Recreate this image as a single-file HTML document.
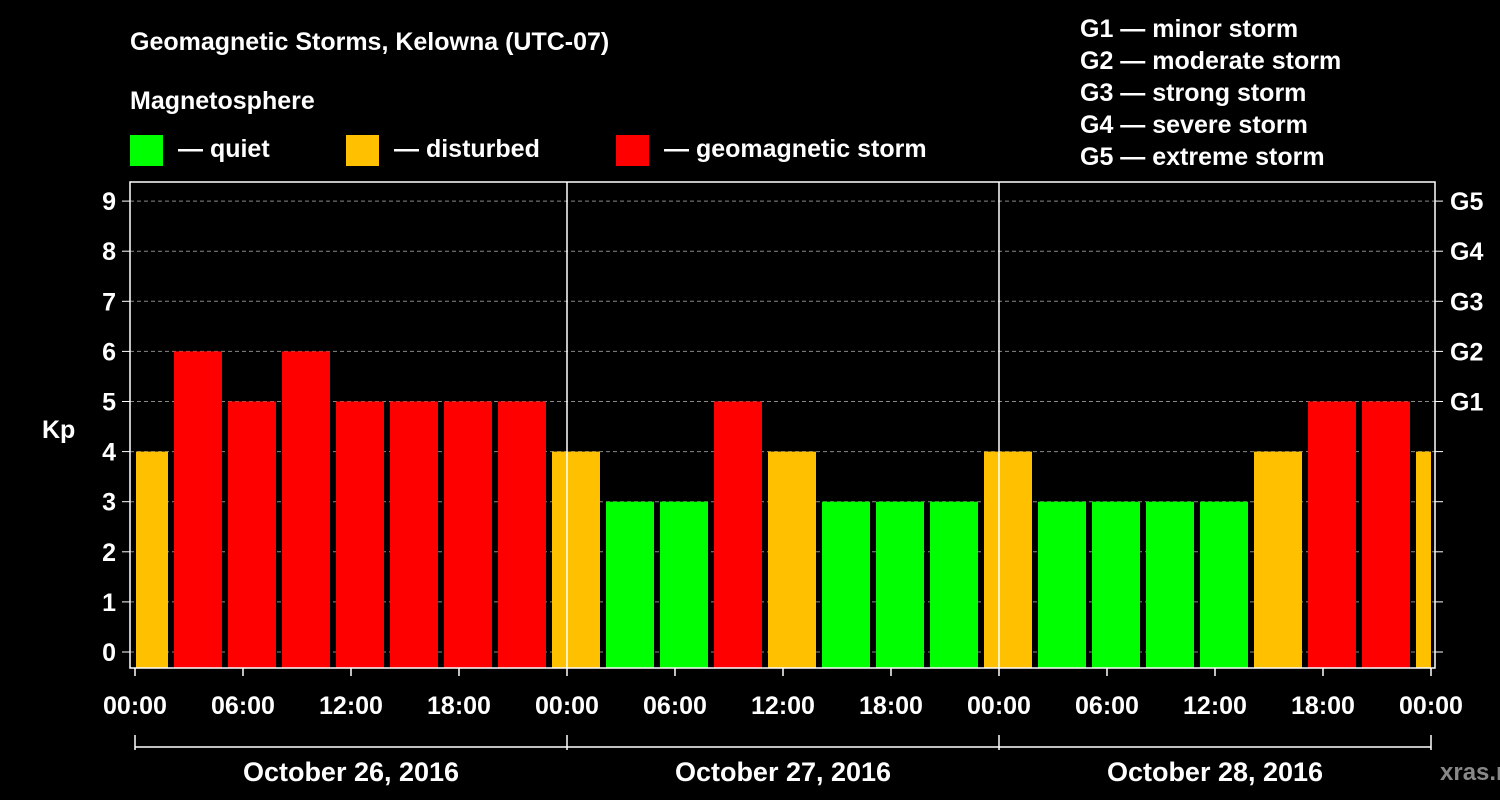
<!DOCTYPE html>
<html><head><meta charset="utf-8"><style>
body{margin:0;background:#000;width:1500px;height:800px;overflow:hidden}
svg{display:block}
text{font-family:"Liberation Sans",sans-serif;font-weight:bold;fill:#fff}
</style></head><body>
<svg id="chart" width="1500" height="800">
<text x="130" y="50" font-size="25">Geomagnetic Storms, Kelowna (UTC-07)</text>
<text x="130" y="109" font-size="25">Magnetosphere</text>
<g><rect x="130" y="135" width="33" height="31" fill="#00ff00"/><text x="178" y="157" font-size="25">— quiet</text></g>
<g><rect x="346" y="135" width="33" height="31" fill="#ffc000"/><text x="394" y="157" font-size="25">— disturbed</text></g>
<g><rect x="616" y="135" width="33" height="31" fill="#ff0000"/><text x="664" y="157" font-size="25">— geomagnetic storm</text></g>
<g font-size="25">
<text x="1080" y="37">G1 — minor storm</text>
<text x="1080" y="69">G2 — moderate storm</text>
<text x="1080" y="101">G3 — strong storm</text>
<text x="1080" y="133">G4 — severe storm</text>
<text x="1080" y="165">G5 — extreme storm</text>
</g>
<g id="grid"></g><g id="bars"></g><g id="axes"></g>
<text x="42" y="438" font-size="25">Kp</text>
<text x="1440" y="780" font-size="24" style="fill:#888">xras.ru</text>
</svg>
<script>
const kpValues=[4,6,5,6,5,5,5,5,4,3,3,5,4,3,3,3,4,3,3,3,3,4,5,5,4];
const yTicks=[0,1,2,3,4,5,6,7,8,9];
const gLabels=["G1","G2","G3","G4","G5"];
const xTickLabels=["00:00","06:00","12:00","18:00","00:00","06:00","12:00","18:00","00:00","06:00","12:00","18:00","00:00"];
const dayLabels=["October 26, 2016","October 27, 2016","October 28, 2016"];
const NS="http://www.w3.org/2000/svg";
const X0=135,PXH=18,Y0=652,PXK=50.1,L=130,R=1435,T=182,B=668;
const xs=h=>X0+h*PXH, ys=k=>Y0-k*PXK;
function mk(p,t,a){const e=document.createElementNS(NS,t);for(const k in a)e.setAttribute(k,a[k]);p.appendChild(e);return e;}
const grid=document.getElementById('grid'),bars=document.getElementById('bars'),axes=document.getElementById('axes');
yTicks.forEach(k=>{
 const g=mk(grid,'line',{x1:L,x2:R,y1:ys(k),y2:ys(k),stroke:'#888','stroke-dasharray':'4,3','stroke-width':1});
 
 
 mk(axes,'line',{x1:L-8,x2:L,y1:ys(k),y2:ys(k),stroke:'#fff','stroke-width':1});
 mk(axes,'line',{x1:R,x2:R+8,y1:ys(k),y2:ys(k),stroke:'#fff','stroke-width':1});
 const t=mk(axes,'text',{x:L-14,y:ys(k)+9,'font-size':25,'text-anchor':'end'});t.textContent=k;
 
 
});
gLabels.forEach((g,i)=>{const t=mk(axes,'text',{x:1450,y:ys(5+i)+9,'font-size':25});t.textContent=g;
 
 });
kpValues.forEach((v,i)=>{
 let x1=xs(-1+3*i)+3,x2=xs(2+3*i)-3;x1=Math.max(x1,X0+1);x2=Math.min(x2,xs(72));
 const c=v>=5?'#ff0000':v>=4?'#ffc000':'#00ff00';
 const r=mk(bars,'rect',{x:x1,y:ys(v),width:x2-x1,height:B-ys(v),fill:c});
 
 
});
mk(axes,'rect',{x:L,y:T,width:R-L,height:B-T,fill:'none',stroke:'#fff','stroke-width':1.5});
[24,48].forEach(h=>mk(axes,'line',{x1:xs(h),x2:xs(h),y1:T,y2:B,stroke:'#fff','stroke-width':1.5}));
xTickLabels.forEach((s,i)=>{const x=xs(i*6);
 mk(axes,'line',{x1:x,x2:x,y1:B,y2:B+8,stroke:'#fff','stroke-width':1.5});
 const t=mk(axes,'text',{x:x,y:714,'font-size':25,'text-anchor':'middle'});t.textContent=s;
 
 });
mk(axes,'line',{x1:xs(0),x2:xs(72),y1:747,y2:747,stroke:'#fff','stroke-width':1.5});
[0,24,48,72].forEach(h=>mk(axes,'line',{x1:xs(h),x2:xs(h),y1:735,y2:750,stroke:'#fff','stroke-width':1.5}));
dayLabels.forEach((s,i)=>{const t=mk(axes,'text',{x:xs(12+24*i),y:781,'font-size':27,'text-anchor':'middle'});t.textContent=s;
 
 });
</script>
</body></html>
